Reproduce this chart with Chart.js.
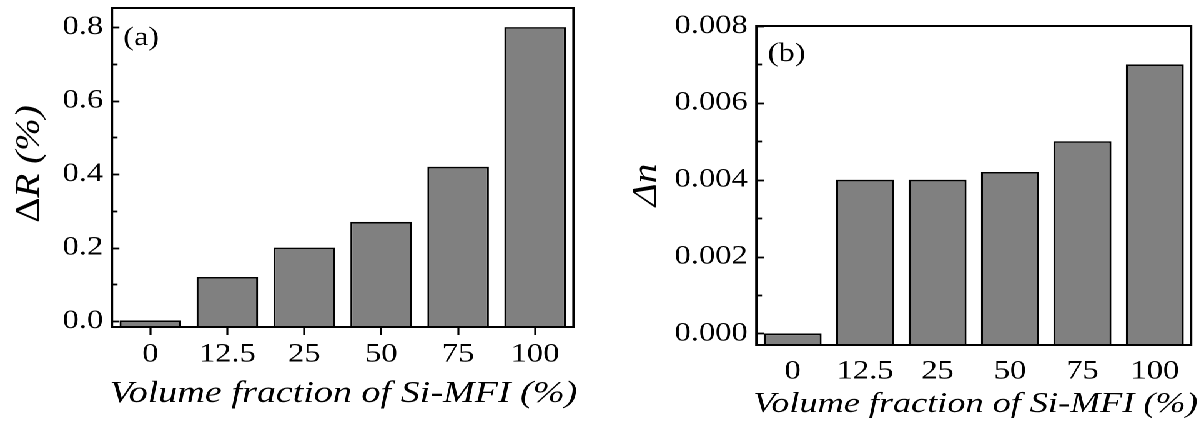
<!DOCTYPE html>
<html>
<head>
<meta charset="utf-8">
<script src="https://cdn.jsdelivr.net/npm/chart.js@4.4.1/dist/chart.umd.min.js"></script>
<style>
  html, body { margin: 0; padding: 0; background: #fff; overflow: hidden; font-family: "Liberation Serif", serif; }
  /* the reference figure is stretched horizontally, so draw at 960 wide and widen it */
  #wrap { width: 960px; height: 423px; display: flex; transform: scaleX(1.249); transform-origin: 0 0; }
  #wrap canvas { display: block; }
  .probe { position: absolute; left: -999px; font-family: "Liberation Serif"; }
</style>
</head>
<body>
<span class="probe">0.8 <i>Volume</i></span>
<div id="wrap">
  <canvas id="chartR" width="470" height="423" style="width:470px;height:423px"></canvas>
  <canvas id="chartN" width="490" height="423" style="width:490px;height:423px"></canvas>
</div>
<script>
// ── data ────────────────────────────────────────────────────────────
const fractions = ['0', '12.5', '25', '50', '75', '100'];   // Si-MFI volume fraction (%)
const deltaR = [0.002, 0.12, 0.20, 0.27, 0.42, 0.80];        // ΔR (%)
const deltaN = [0.0, 0.004, 0.004, 0.0042, 0.005, 0.007];    // Δn
const rTicks = [0.0, 0.2, 0.4, 0.6, 0.8];
const rMinor = [0.1, 0.3, 0.5, 0.7];
const nTicks = [0.000, 0.002, 0.004, 0.006, 0.008];
const nMinor = [0.001, 0.003, 0.005, 0.007];
const xTitle = 'Volume fraction of Si-MFI (%)';

const SERIF = '"Liberation Serif"';
const BAR_FILL = '#808080';

// Frame, inward y ticks, axis titles and panel tag (Origin-like look)
const framePlugin = {
    id: 'frame',
    afterDraw(chart, args, o) {
        const { ctx, chartArea: a } = chart;
        const y = chart.scales.y;
        ctx.save();
        ctx.strokeStyle = '#000';
        ctx.fillStyle = '#000';

        ctx.lineWidth = 1.8;
        const tick = (v, len) => {
            const py = Math.round(y.getPixelForValue(v)) + 0.5;
            ctx.beginPath();
            ctx.moveTo(a.left, py);
            ctx.lineTo(a.left + len, py);
            ctx.stroke();
        };
        o.major.forEach((v) => tick(v, 6));
        o.minor.forEach((v) => tick(v, 4.5));

        ctx.lineWidth = 2;
        ctx.strokeRect(a.left, a.top, a.right - a.left, a.bottom - a.top);

        // panel tag (a)/(b)
        ctx.font = `26px ${SERIF}`;
        ctx.textAlign = 'left';
        ctx.textBaseline = 'middle';
        ctx.fillText(o.tag, a.left + o.tagDx, a.top + o.tagDy);

        // x title
        ctx.font = `italic ${o.xTitleSize}px ${SERIF}`;
        ctx.textAlign = 'center';
        ctx.textBaseline = 'alphabetic';
        ctx.fillText(xTitle, o.xTitle[0], o.xTitle[1]);

        // y title, rotated, mixed upright / italic parts
        ctx.translate(o.yTitle[0], o.yTitle[1]);
        ctx.rotate(-Math.PI / 2);
        ctx.scale(o.yStretch, 1);
        ctx.textAlign = 'left';
        ctx.textBaseline = 'middle';
        const fontOf = (p) => (p.it ? 'italic ' : '') + `27px ${SERIF}`;
        let w = 0;
        o.yParts.forEach((p) => { ctx.font = fontOf(p); w += ctx.measureText(p.t).width; });
        let x = -w / 2;
        o.yParts.forEach((p) => {
            ctx.font = fontOf(p);
            ctx.fillText(p.t, x, 0);
            x += ctx.measureText(p.t).width;
        });
        ctx.restore();
    },
};

function makeChart(el, values, cfg) {
    return new Chart(el, {
        type: 'bar',
        data: {
            labels: fractions,
            datasets: [{
                data: values,
                base: cfg.min,
                backgroundColor: BAR_FILL,
                borderColor: '#000',
                borderWidth: 1.6,
                barPercentage: 0.8,
                categoryPercentage: 1,
            }],
        },
        options: {
            responsive: false,
            animation: false,
            devicePixelRatio: 2,
            layout: { padding: cfg.padding },
            plugins: {
                legend: { display: false },
                tooltip: { enabled: false },
                frame: cfg.frame,
            },
            scales: {
                x: {
                    offset: true,
                    grid: {
                        display: cfg.xTicks, drawOnChartArea: false, offset: false,
                        tickLength: 8, tickWidth: 1.6, tickColor: '#000',
                    },
                    border: { display: false },
                    ticks: { color: '#000', font: { family: SERIF, size: 26 }, padding: cfg.xPad, maxRotation: 0 },
                    afterFit: (s) => {
                        s.height = cfg.xHeight;
                        s.paddingLeft = 0;
                        s.paddingRight = 0;
                    },
                },
                y: {
                    min: cfg.min,
                    max: cfg.max,
                    grid: { display: false, drawTicks: false },
                    border: { display: false },
                    ticks: {
                        color: '#000', font: { family: SERIF, size: 26 }, padding: 7,
                        callback: (v) => Number(v).toFixed(cfg.digits),
                    },
                    afterBuildTicks: (s) => { s.ticks = cfg.frame.major.map((v) => ({ value: v })); },
                    // fixed width, and no label overflow pushing the plot edges around
                    afterFit: (s) => {
                        s.width = cfg.yWidth;
                        s.paddingTop = 0;
                        s.paddingBottom = 0;
                    },
                },
            },
        },
        plugins: [framePlugin],
    });
}

function draw() {
    makeChart(document.getElementById('chartR'), deltaR, {
        min: -0.016, max: 0.852, digits: 1,
        padding: { left: 0, top: 8, right: 10.8, bottom: 0 },
        yWidth: 89.6, xHeight: 96, xTicks: true, xPad: 4,
        frame: {
            major: rTicks, minor: rMinor, tag: '(a)', tagDx: 9, tagDy: 30,
            xTitle: [275, 402], xTitleSize: 30.5, yTitle: [24, 164], yStretch: 1.45,
            yParts: [{ t: 'Δ', it: false }, { t: 'R', it: true }, { t: ' (%)', it: true }],
        },
    });

    makeChart(document.getElementById('chartN'), deltaN, {
        min: -0.0003, max: 0.008, digits: 3,
        padding: { left: 0, top: 26, right: 6.4, bottom: 0 },
        yWidth: 135.6, xHeight: 78, xTicks: false, xPad: 3,
        frame: {
            major: nTicks, minor: nMinor, tag: '(b)', tagDx: 9, tagDy: 28,
            xTitle: [311, 412], xTitleSize: 29, yTitle: [48, 185], yStretch: 1.45,
            yParts: [{ t: 'Δn', it: true }],
        },
    });
}

Promise.all([
    document.fonts.load(`26px ${SERIF}`),
    document.fonts.load(`italic 32px ${SERIF}`),
]).then(draw, draw);
</script>
</body>
</html>
